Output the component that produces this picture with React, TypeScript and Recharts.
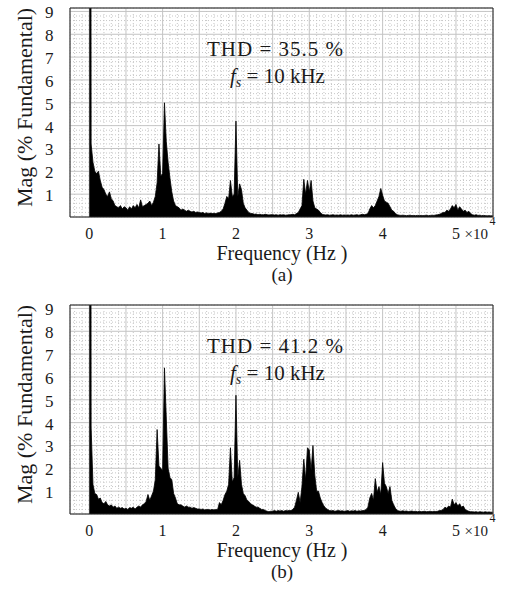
import { AreaChart, Area, XAxis, YAxis, CartesianGrid, ReferenceArea } from "recharts";

// FFT bins are 250 Hz apart, bin 0 = 0 Hz, last bin = 55 kHz
const FREQ_STEP = 250;

// (a) magnitude, % of fundamental, one row per 5 kHz
const magA = [
  100, 3.2, 2.4, 2.0, 1.9, 2.0, 1.6, 1.3, 1.2, 1.0, 0.9, 1.1, 0.8, 0.7, 0.5, 0.45, 0.4, 0.5, 0.35, 0.45,
  0.4, 0.3, 0.45, 0.35, 0.5, 0.4, 0.55, 0.4, 0.75, 0.45, 0.5, 0.55, 0.6, 0.7, 0.5, 0.65, 0.9, 1.5, 3.2, 1.8,
  1.9, 5.0, 3.3, 2.4, 1.7, 1.1, 0.7, 0.5, 0.45, 0.4, 0.3, 0.35, 0.3, 0.25, 0.3, 0.25, 0.22, 0.25, 0.2, 0.22,
  0.2, 0.18, 0.2, 0.15, 0.18, 0.15, 0.17, 0.15, 0.16, 0.15, 0.18, 0.2, 0.25, 0.35, 0.6, 0.9, 0.8, 1.6, 0.9, 1.0,
  4.2, 0.9, 1.45, 1.2, 0.6, 0.4, 0.3, 0.2, 0.15, 0.15, 0.12, 0.13, 0.1, 0.12, 0.1, 0.1, 0.12, 0.1, 0.09, 0.1,
  0.1, 0.09, 0.1, 0.08, 0.1, 0.09, 0.1, 0.08, 0.09, 0.1, 0.1, 0.12, 0.1, 0.15, 0.2, 0.35, 0.5, 1.65, 1.0, 1.6,
  1.1, 1.6, 0.7, 0.4, 0.35, 0.3, 0.2, 0.12, 0.1, 0.09, 0.1, 0.08, 0.09, 0.1, 0.08, 0.09, 0.08, 0.1, 0.08, 0.09,
  0.08, 0.09, 0.08, 0.1, 0.08, 0.09, 0.1, 0.08, 0.1, 0.12, 0.1, 0.12, 0.15, 0.35, 0.5, 0.4, 0.5, 0.7, 0.9, 1.25,
  0.95, 0.7, 0.65, 0.6, 0.45, 0.3, 0.25, 0.15, 0.1, 0.08, 0.07, 0.08, 0.07, 0.06, 0.07, 0.08, 0.06, 0.07, 0.06, 0.07,
  0.06, 0.07, 0.06, 0.07, 0.08, 0.06, 0.07, 0.08, 0.07, 0.09, 0.1, 0.12, 0.15, 0.2, 0.2, 0.3, 0.25, 0.35, 0.5, 0.4,
  0.55, 0.3, 0.45, 0.35, 0.25, 0.3, 0.2, 0.25, 0.15, 0.1, 0.08, 0.1, 0.07, 0.08, 0.06, 0.07, 0.06, 0.05, 0.06, 0.05, 0.05,
];

// (b)
const magB = [
  100, 3.8, 1.3, 0.9, 0.85, 0.65, 0.7, 0.5, 0.45, 0.55, 0.4, 0.35, 0.4, 0.3, 0.35, 0.25, 0.3, 0.25, 0.28, 0.22,
  0.25, 0.2, 0.28, 0.25, 0.3, 0.22, 0.3, 0.35, 0.3, 0.4, 0.45, 0.55, 0.85, 0.6, 0.8, 1.0, 1.5, 3.7, 2.1, 2.0,
  1.9, 6.4, 4.2, 2.0, 1.6, 1.5, 0.9, 0.7, 0.45, 0.4, 0.4, 0.35, 0.3, 0.35, 0.3, 0.3, 0.25, 0.28, 0.25, 0.22,
  0.22, 0.2, 0.22, 0.18, 0.2, 0.2, 0.18, 0.2, 0.18, 0.2, 0.2, 0.5, 0.4, 0.6, 0.85, 1.0, 1.3, 2.9, 1.4, 1.6,
  5.2, 1.6, 2.35, 1.3, 0.9, 0.8, 0.6, 0.55, 0.45, 0.4, 0.35, 0.3, 0.3, 0.25, 0.2, 0.2, 0.15, 0.12, 0.1, 0.12,
  0.12, 0.15, 0.12, 0.15, 0.13, 0.15, 0.12, 0.15, 0.14, 0.15, 0.15, 0.2, 0.3, 0.6, 0.95, 0.5, 1.2, 2.4, 1.5, 2.9,
  2.8, 1.9, 3.0, 1.7, 1.0, 1.0, 0.7, 0.5, 0.35, 0.25, 0.2, 0.15, 0.14, 0.15, 0.12, 0.14, 0.15, 0.13, 0.14, 0.12,
  0.13, 0.15, 0.12, 0.14, 0.13, 0.15, 0.12, 0.14, 0.13, 0.15, 0.15, 0.2, 0.3, 0.7, 0.9, 0.6, 1.55, 0.95, 1.2, 0.85,
  2.25, 1.35, 1.2, 0.9, 1.2, 0.6, 0.4, 0.25, 0.15, 0.13, 0.12, 0.14, 0.12, 0.13, 0.11, 0.12, 0.13, 0.11, 0.12, 0.1,
  0.12, 0.1, 0.11, 0.12, 0.1, 0.11, 0.12, 0.1, 0.12, 0.11, 0.12, 0.15, 0.15, 0.2, 0.3, 0.25, 0.35, 0.3, 0.65, 0.4,
  0.5, 0.35, 0.45, 0.3, 0.35, 0.2, 0.15, 0.12, 0.1, 0.1, 0.09, 0.1, 0.08, 0.1, 0.09, 0.08, 0.1, 0.08, 0.09, 0.08, 0.08,
];

const xTicks = [0, 5000, 10000, 15000, 20000, 25000, 30000, 35000, 40000, 45000, 50000];
const xTickLabels: Record<number, string> = { 0: "0", 10000: "1", 20000: "2", 30000: "3", 40000: "4", 50000: "5" };
const yTicks = [0, 1, 2, 3, 4, 5, 6, 7, 8, 9];

const X_DOMAIN: [number, number] = [-2630, 55050];
const Y_DOMAIN: [number, number] = [0, 9.15];

// dotted minor grid: 1 kHz / 0.2 steps
const minorX = Array.from({ length: 57 }, (_, k) => -2000 + k * 1000).filter((v) => v % 5000 !== 0);
const minorY = Array.from({ length: 46 }, (_, k) => +(k * 0.2).toFixed(1)).filter(
  (v) => Math.abs(v - Math.round(v)) > 0.01
);

const FONT = "Liberation Serif, DejaVu Serif, serif";
const INK = "#1a1a1a";

const renderXTick = (props: any) => {
  const { x, y, payload } = props;
  const label = xTickLabels[payload.value];
  if (label === undefined) return <g />;
  const base = y + 21.5;
  if (payload.value === 50000) {
    return (
      <g fill={INK}>
        <text x={x} y={base} textAnchor="middle" fontSize={16} style={{ fontFamily: FONT }}>
          {label}
        </text>
        <text x={x + 8.5} y={base} fontSize={15} style={{ fontFamily: FONT }}>
          ×10
        </text>
        <text x={x + 33.5} y={y + 8} fontSize={12} style={{ fontFamily: FONT }}>
          4
        </text>
      </g>
    );
  }
  return (
    <text x={x} y={base} textAnchor="middle" fontSize={16} style={{ fontFamily: FONT }} fill={INK}>
      {label}
    </text>
  );
};

const renderYTick = (props: any) => {
  const { x, y, payload } = props;
  if (payload.value === 0) return <g />;
  return (
    <text x={x - 16.5} y={y + 7} textAnchor="end" fontSize={17} style={{ fontFamily: FONT }} fill={INK}>
      {payload.value}
    </text>
  );
};

interface SpectrumProps {
  mags: number[];
  thd: string;
  tag: string;
}

function Spectrum({ mags, thd, tag }: SpectrumProps) {
  const data = mags.map((m, i) => ({ f: i * FREQ_STEP, m }));
  return (
    <AreaChart
      width={509}
      height={297}
      data={data}
      margin={{ top: 8, right: 16, bottom: 50, left: 30 }}
      style={{ fontFamily: FONT }}
    >
      <XAxis
        xAxisId="minor"
        type="number"
        dataKey="f"
        domain={X_DOMAIN}
        ticks={minorX}
        interval={0}
        allowDataOverflow
        hide
      />
      <YAxis yAxisId="minor" type="number" domain={Y_DOMAIN} ticks={minorY} interval={0} allowDataOverflow hide />
      <CartesianGrid xAxisId="minor" yAxisId="minor" stroke="#c6c6c6" strokeDasharray="1 2" />
      <CartesianGrid stroke="#c4c4c4" />
      <XAxis
        type="number"
        dataKey="f"
        domain={X_DOMAIN}
        ticks={xTicks}
        interval={0}
        allowDataOverflow
        axisLine={false}
        tickLine={false}
        tickSize={0}
        tickMargin={0}
        height={30}
        tick={renderXTick}
      />
      <YAxis
        type="number"
        domain={Y_DOMAIN}
        ticks={yTicks}
        interval={0}
        allowDataOverflow
        axisLine={false}
        tickLine={false}
        tickSize={0}
        tickMargin={0}
        width={40}
        tick={renderYTick}
      />
      <Area
        type="linear"
        dataKey="m"
        stroke="#000"
        strokeWidth={0.8}
        fill="#000"
        fillOpacity={1}
        baseValue={0}
        dot={false}
        activeDot={false}
        isAnimationActive={false}
      />
      <ReferenceArea
        x1={X_DOMAIN[0]}
        x2={X_DOMAIN[1]}
        y1={Y_DOMAIN[0]}
        y2={Y_DOMAIN[1]}
        fill="none"
        stroke="#262626"
        strokeWidth={1}
      />
      <text
        x={31.5}
        y={107.5}
        transform="rotate(-90 31.5 107.5)"
        textAnchor="middle"
        fontSize={22}
        style={{ fontFamily: FONT }}
        fill={INK}
      >
        Mag (% Fundamental)
      </text>
      <text x={282} y={259.5} textAnchor="middle" fontSize={20} style={{ fontFamily: FONT }} fill={INK}>
        Frequency (Hz )
      </text>
      <text x={282} y={281} textAnchor="middle" fontSize={19} style={{ fontFamily: FONT }} fill={INK}>
        {tag}
      </text>
      <text
        x={207}
        y={56}
        fontSize={21}
        style={{ fontFamily: FONT }}
        fill={INK}
        textLength={136}
        lengthAdjust="spacing"
      >
        {thd}
      </text>
      <text x={230} y={82.5} fontSize={21} style={{ fontFamily: FONT }} fill={INK}>
        <tspan fontStyle="italic">f</tspan>
        <tspan fontStyle="italic" fontSize={14} dy={4}>
          s
        </tspan>
        <tspan dy={-4}> = 10 kHz</tspan>
      </text>
    </AreaChart>
  );
}

export default function App() {
  return (
    <div
      style={{
        position: "absolute",
        left: 0,
        top: 0,
        width: 509,
        height: 595,
        background: "#fff",
        fontFamily: FONT,
      }}
    >
      <div style={{ position: "absolute", left: 0, top: 0 }}>
        <Spectrum mags={magA} thd="THD = 35.5 %" tag="(a)" />
      </div>
      <div style={{ position: "absolute", left: 0, top: 297 }}>
        <Spectrum mags={magB} thd="THD = 41.2 %" tag="(b)" />
      </div>
    </div>
  );
}
